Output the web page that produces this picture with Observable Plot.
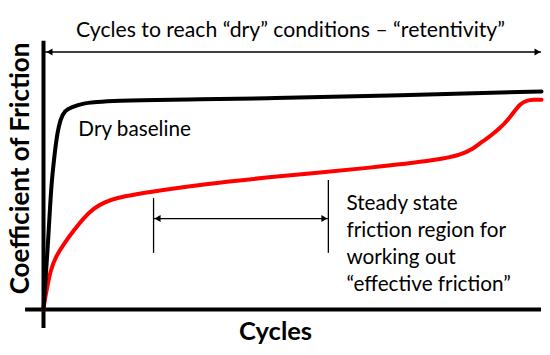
<!DOCTYPE html>
<html><head><meta charset="utf-8">
<script src="https://cdn.jsdelivr.net/npm/d3@7"></script>
<script src="https://cdn.jsdelivr.net/npm/@observablehq/plot@0.6"></script>
<style>body{margin:0;background:#fff}</style>
</head><body><div id="chart"></div>
<script>
// Dry baseline (black) curve: cycles (% of range) vs friction (relative)
const dryX = [0, 0.8, 1.61, 2.21, 2.81, 3.41, 4.42, 6.08, 8.09, 10.78, 15.46, 31.53, 46.59, 71.69, 100];
const dryY = [0, 0.222, 0.466, 0.579, 0.662, 0.711, 0.746, 0.763, 0.774, 0.780, 0.785, 0.790, 0.795, 0.805, 0.82];
// Lubricated (red) curve
const lubX = [0, 0.1, 0.74, 1.41, 2.41, 4.08, 6.08, 8.09, 10.1, 12.11, 14.8, 18.13, 23.15, 31.53, 46.59, 66.67, 79.72, 83.73, 86.35, 88.15, 89.76, 91.77, 93.17, 94.38, 95.78, 96.99, 98.39, 100];
const lubY = [0, 0.019, 0.084, 0.147, 0.197, 0.247, 0.297, 0.345, 0.38, 0.403, 0.42, 0.432, 0.447, 0.47, 0.5, 0.534, 0.564, 0.581, 0.605, 0.632, 0.652, 0.684, 0.711, 0.741, 0.774, 0.786, 0.789, 0.789];

const labels = {
  title: "Cycles to reach \u201cdry\u201d conditions \u2013 \u201cretentivity\u201d",
  dry: "Dry baseline",
  steady: "Steady state\nfriction region for\nworking out\n\u201ceffective friction\u201d",
  xLabel: "Cycles",
  yLabel: "Coefficient of Friction"
};

// annotation anchors (data units)
const retentivity = {x1: 0, x2: 100, y: 0.968};
const steady = {x1: 22.1, x2: 57.2, y: 0.342, left: [0.211, 0.417], right: [0.211, 0.485]};

const dry = dryX.map((x, i) => ({x, y: dryY[i]}));
const lub = lubX.map((x, i) => ({x, y: lubY[i]}));

const font = "Lato, 'Open Sans', sans-serif";
const tip = 5;
const head = {symbol: "triangle2", r: 3.3, fill: "black", stroke: "none"};

const chart = Plot.plot({
  width: 550, height: 355,
  marginLeft: 43, marginRight: 9, marginTop: 43, marginBottom: 46,
  x: {domain: [0, 100], axis: null},
  y: {domain: [0, 1], axis: null},
  style: {fontFamily: font, background: "#fff", overflow: "visible"},
  marks: [
    // axes
    Plot.ruleX([0], {y1: -0.071, y2: 1.008, stroke: "black", strokeWidth: 4}),
    Plot.ruleY([0], {x1: -3.6, x2: 100, stroke: "black", strokeWidth: 4}),
    // curves
    Plot.line(lub, {x: "x", y: "y", stroke: "#ff0000", strokeWidth: 4, curve: "basis"}),
    Plot.line(dry, {x: "x", y: "y", stroke: "black", strokeWidth: 4, curve: "monotone-x"}),
    // retentivity arrow
    Plot.ruleY([retentivity.y], {x1: retentivity.x1, x2: retentivity.x2, stroke: "black", strokeWidth: 1.3}),
    Plot.dot([retentivity.x2], {x: d => d, y: retentivity.y, ...head, rotate: 90, dx: -tip}),
    Plot.dot([retentivity.x1], {x: d => d, y: retentivity.y, ...head, rotate: -90, dx: tip + 2}),
    // steady state bracket
    Plot.ruleX([steady.x1], {y1: steady.left[0], y2: steady.left[1], stroke: "black", strokeWidth: 1.3}),
    Plot.ruleX([steady.x2], {y1: steady.right[0], y2: steady.right[1], stroke: "black", strokeWidth: 1.3}),
    Plot.ruleY([steady.y], {x1: steady.x1, x2: steady.x2, stroke: "black", strokeWidth: 1.3}),
    Plot.dot([steady.x2], {x: d => d, y: steady.y, ...head, rotate: 90, dx: -tip}),
    Plot.dot([steady.x1], {x: d => d, y: steady.y, ...head, rotate: -90, dx: tip}),
    // texts
    Plot.text([labels.title], {x: 49.6, y: 1.049, text: d => d, fontSize: 21.2, fill: "black"}),
    Plot.text([labels.dry], {x: 7.0, y: 0.677, text: d => d, fontSize: 20.7, textAnchor: "start", fill: "black"}),
    Plot.text([labels.steady], {x: 60.84, y: 0.254, text: d => d, fontSize: 20.7, lineHeight: 1.3, textAnchor: "start", fill: "black"}),
    Plot.text([labels.xLabel], {x: 46.6, y: -0.083, text: d => d, fontSize: 25.5, fontWeight: "bold", fill: "black"}),
    Plot.text([labels.yLabel], {x: -4.5, y: 0.53, text: d => d, fontSize: 26, fontWeight: "bold", rotate: -90, fill: "black"})
  ]
});
document.getElementById("chart").appendChild(chart);
</script></body></html>
